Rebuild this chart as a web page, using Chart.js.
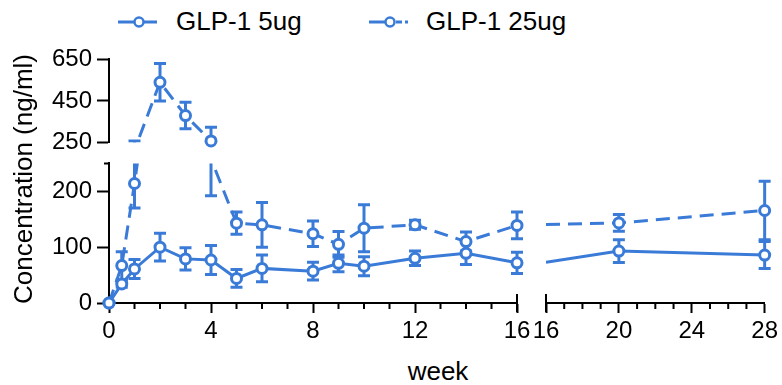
<!DOCTYPE html>
<html>
<head>
<meta charset="utf-8">
<script src="https://cdn.jsdelivr.net/npm/chart.js@4"></script>
<style>
  body { margin: 0; background: #fff; }
  #wrap { position: relative; width: 782px; height: 385px; overflow: hidden; font-family: Arial, "Liberation Sans", Helvetica, sans-serif; color: #000; }
  #wrap canvas { position: absolute; }
  .txt { position: absolute; font-size: 26px; line-height: 30px; white-space: nowrap; }
  .sym { position: absolute; }
</style>
</head>
<body>
<div id="wrap">
  <canvas id="ul" width="537" height="122" style="left:0;top:40px"></canvas>
  <canvas id="bl" width="537" height="206" style="left:0;top:144px"></canvas>
  <canvas id="br" width="254" height="206" style="left:528px;top:144px"></canvas>

  <svg class="sym" style="left:112px;top:10px" width="50" height="24">
    <line x1="6" y1="12" x2="45" y2="12" stroke="#3b7bd8" stroke-width="3"/>
    <circle cx="27" cy="12" r="4.5" fill="#fff" stroke="#3b7bd8" stroke-width="2.5"/>
  </svg>
  <div class="txt" style="left:176px;top:6px">GLP-1 5ug</div>
  <svg class="sym" style="left:363px;top:10px" width="50" height="24">
    <line x1="6" y1="12" x2="22" y2="12" stroke="#3b7bd8" stroke-width="3"/>
    <circle cx="27" cy="12" r="4.5" fill="#fff" stroke="#3b7bd8" stroke-width="2.5"/>
    <line x1="33" y1="12" x2="39" y2="12" stroke="#3b7bd8" stroke-width="3"/>
    <line x1="42" y1="12" x2="45" y2="12" stroke="#3b7bd8" stroke-width="3"/>
  </svg>
  <div class="txt" style="left:426px;top:6px">GLP-1 25ug</div>

  <div class="txt" style="left:-147px;top:164px;width:340px;text-align:center;transform:rotate(-90deg)">Concentration (ng/ml)</div>
  <div class="txt" style="left:338px;top:356px;width:200px;text-align:center">week</div>
</div>
<script>
// data
var weeks = [0, 0.5, 1, 2, 3, 4, 5, 6, 8, 9, 10, 12, 14, 16, 20, 28];
var glp5 = [0, 34, 61, 100, 79, 77, 44, 62, 57, 71, 66, 80, 89, 72, 92, 85];
var glp5Err = [0, 6, 17, 25, 20, 26, 16, 24, 16, 15, 17, 13, 20, 19, 20, 24];
var glp25 = [0, 67, 214, 540, 380, 258, 143, 140, 124, 105, 134, 140, 110, 139, 142, 164];
var glp25Err = [0, 25, 44, 90, 64, 66, 20, 40, 23, 23, 42, 8, 17, 24, 15, 52];
var xTicksLeft = [0, 16, 4];   // min, max, step
var xTicksRight = [16, 28, 4];
var yTicksLow = [0, 250, 100];
var yTicksHigh = [250, 650, 200];

var BLUE = '#3b7bd8';
Chart.defaults.font.family = 'Arial, "Liberation Sans", Helvetica, sans-serif';
Chart.defaults.color = '#000';

function pick(arr, from, to) {
  var out = [];
  for (var i = 0; i < weeks.length; i++) {
    if (weeks[i] >= from && weeks[i] <= to) out.push({ x: weeks[i], y: arr[i] });
  }
  return out;
}
function pickErr(arr, from, to, skip) {
  var out = [];
  for (var i = 0; i < weeks.length; i++) {
    if (weeks[i] >= from && weeks[i] <= to) out.push(weeks[i] === skip ? 0 : arr[i]);
  }
  return out;
}

// error bars drawn through the chart scales, clipped to the panel
var errorBars = {
  id: 'errorBars',
  beforeDatasetsDraw: function(chart) {
    var ctx = chart.ctx, a = chart.chartArea;
    var xs = chart.scales.x, ys = chart.scales.y;
    ctx.save();
    ctx.beginPath();
    ctx.rect(a.left - 10, a.top, a.right - a.left + 20, a.bottom - a.top);
    ctx.clip();
    ctx.strokeStyle = BLUE;
    ctx.lineWidth = 3;
    chart.data.datasets.forEach(function(ds) {
      if (!ds.errors) return;
      ds.data.forEach(function(p, i) {
        var e = ds.errors[i];
        if (!e) return;
        var px = xs.getPixelForValue(p.x);
        var t = ys.getPixelForValue(p.y + e);
        var b = ys.getPixelForValue(p.y - e);
        ctx.beginPath();
        ctx.moveTo(px, t); ctx.lineTo(px, b);
        ctx.moveTo(px - 6, t); ctx.lineTo(px + 6, t);
        ctx.moveTo(px - 6, b); ctx.lineTo(px + 6, b);
        ctx.stroke();
      });
    });
    ctx.restore();
  }
};

// minor ticks and axis-break marks
var axisMarks = {
  id: 'axisMarks',
  afterDraw: function(chart, args, opts) {
    var ctx = chart.ctx, a = chart.chartArea, xs = chart.scales.x;
    ctx.save();
    ctx.strokeStyle = '#000';
    ctx.lineWidth = 2;
    ctx.beginPath();
    if (xs.options.display) {
      for (var w = xs.min; w <= xs.max; w++) {
        if (w % 4 === 0) continue;
        var px = xs.getPixelForValue(w);
        ctx.moveTo(px, a.bottom); ctx.lineTo(px, a.bottom + 6);
      }
    }
    if (opts.breakX !== undefined) {
      var bx = xs.getPixelForValue(opts.breakX);
      ctx.moveTo(bx, a.bottom - 9); ctx.lineTo(bx, a.bottom + 9);
    }
    if (opts.breakTop) {
      ctx.moveTo(a.left - 5, a.top); ctx.lineTo(a.left, a.top);
    }
    ctx.stroke();
    ctx.restore();
  }
};

function xAxis(t, show) {
  return {
    type: 'linear', display: show, min: t[0], max: t[1],
    afterFit: function(s) { s.height = show ? 47 : 0; },
    ticks: { stepSize: t[2], includeBounds: false, autoSkip: false, maxRotation: 0, padding: 4, font: { size: 24 } },
    grid: { drawOnChartArea: false, tickLength: 10, tickWidth: 2, tickColor: '#000' },
    border: { display: true, color: '#000', width: 2 }
  };
}
function yAxis(t, show) {
  return {
    type: 'linear', display: show, min: t[0], max: t[1],
    afterFit: function(s) { s.width = show ? 109 : 0; },
    ticks: { stepSize: t[2], includeBounds: false, padding: 5, font: { size: 24 } },
    grid: { drawOnChartArea: false, tickLength: 12, tickWidth: 2, tickColor: '#000' },
    border: { display: true, color: '#000', width: 2 }
  };
}

function panel(id, xr, yr, opts) {
  var lo = xr[0], hi = xr[1];
  var inRange = function(c) {
    var p = c.raw;
    if (!p) return 0;
    if (p.y < yr[0] || p.y > yr[1]) return 0;
    if (opts.hideX !== undefined && p.x === opts.hideX) return 0;
    return 5;
  };
  var pts = function(arr, err) {
    return {
      data: pick(arr, lo, hi), errors: pickErr(err, lo, hi, opts.hideX),
      showLine: false, clip: false,
      pointRadius: inRange, pointBackgroundColor: '#fff',
      pointBorderColor: BLUE, pointBorderWidth: 3
    };
  };
  var line = function(arr, dash) {
    return {
      data: pick(arr, lo, hi), borderColor: BLUE, borderWidth: 3,
      borderDash: dash, pointRadius: 0, tension: 0, clip: opts.clip
    };
  };
  return new Chart(document.getElementById(id), {
    type: 'line',
    data: {
      datasets: [pts(glp5, glp5Err), pts(glp25, glp25Err), line(glp5, []), line(glp25, [14, 8])]
    },
    options: {
      responsive: false, animation: false, events: [],
      layout: { autoPadding: false, padding: opts.padding },
      plugins: { legend: { display: false }, tooltip: { enabled: false }, axisMarks: opts.marks },
      scales: { x: xAxis(xr, opts.showX), y: yAxis(yr, opts.showY) }
    },
    plugins: [errorBars, axisMarks]
  });
}

panel('ul', xTicksLeft, yTicksHigh, {
  showX: false, showY: true,
  padding: { top: 18, right: 20, bottom: 10, left: 0 },
  clip: { left: 5, right: 5, top: 5, bottom: 0 },
  marks: {}
});
panel('bl', xTicksLeft, yTicksLow, {
  showX: true, showY: true,
  padding: { top: 18, right: 20, bottom: 0, left: 0 },
  clip: { left: 5, right: 5, top: 0, bottom: 5 },
  marks: { breakX: 16, breakTop: true }
});
panel('br', xTicksRight, yTicksLow, {
  showX: true, showY: false, hideX: 16,
  padding: { top: 18, right: 16, bottom: 0, left: 18 },
  clip: { left: 0, right: 5, top: 0, bottom: 5 },
  marks: { breakX: 16 }
});
</script>
</body>
</html>
